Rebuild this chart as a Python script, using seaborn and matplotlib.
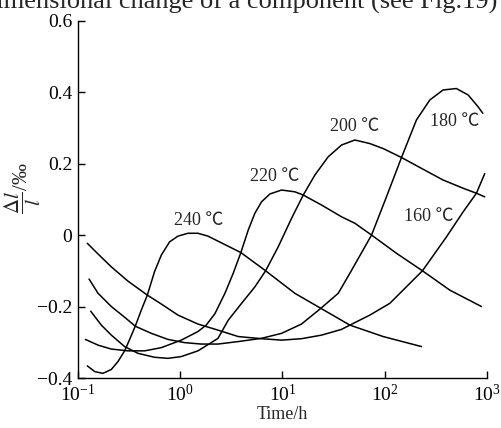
import numpy as np
import pandas as pd
import matplotlib
matplotlib.use("Agg")
import matplotlib.pyplot as plt
import seaborn as sns
from matplotlib.ticker import FixedLocator, FixedFormatter, NullLocator, LogFormatterMathtext

# ---- data (log10 of time in h, dimensional change in per mille) ----
log_t_240 = [-0.909, -0.837, -0.756, -0.674, -0.609, -0.544, -0.492, -0.440, -0.381, -0.322,
             -0.251, -0.185, -0.104, -0.022, 0.075, 0.173, 0.271, 0.369,
             0.593, 0.835, 1.121, 1.375, 1.659, 1.985, 2.359]
dl_240    = [-0.366, -0.382, -0.387, -0.376, -0.354, -0.324, -0.290, -0.255, -0.210, -0.168,
             -0.102, -0.056, -0.019, -0.003, 0.005, 0.005, -0.003, -0.017,
             -0.049, -0.100, -0.163, -0.205, -0.252, -0.284, -0.312]

log_t_220 = [-0.928, -0.804, -0.674, -0.511, -0.348, -0.185, 0.010, 0.173, 0.254, 0.339,
             0.437, 0.518, 0.593, 0.665, 0.730, 0.795, 0.877, 0.991, 1.121, 1.203,
             1.382, 1.578, 1.708, 1.871, 2.115, 2.369, 2.636, 2.946]
dl_220    = [-0.292, -0.308, -0.319, -0.324, -0.324, -0.315, -0.294, -0.270, -0.252, -0.220,
             -0.163, -0.107, -0.049, 0.014, 0.061, 0.093, 0.115, 0.126, 0.121, 0.112,
             0.084, 0.051, 0.033, 0.000, -0.051, -0.100, -0.154, -0.200]

log_t_200 = [-0.876, -0.772, -0.674, -0.544, -0.413, -0.251, -0.120, 0.010, 0.173, 0.303,
             0.369, 0.470, 0.600, 0.730, 0.835, 0.958, 1.089, 1.203, 1.317, 1.447,
             1.578, 1.708, 1.854, 1.985, 2.164, 2.376, 2.571, 2.767, 2.897, 2.978]
dl_200    = [-0.213, -0.252, -0.280, -0.312, -0.331, -0.342, -0.345, -0.340, -0.324, -0.301,
             -0.289, -0.238, -0.191, -0.145, -0.100, -0.033, 0.047, 0.112, 0.168, 0.219,
             0.252, 0.266, 0.256, 0.242, 0.217, 0.184, 0.154, 0.131, 0.117, 0.107]

log_t_180 = [-0.892, -0.804, -0.674, -0.544, -0.440, -0.283, -0.120, 0.043, 0.206, 0.369,
             0.567, 0.795, 0.991, 1.186, 1.375, 1.545, 1.659, 1.871, 2.017, 2.164,
             2.310, 2.441, 2.571, 2.701, 2.816, 2.913, 2.959]
dl_180    = [-0.123, -0.163, -0.200, -0.230, -0.255, -0.275, -0.292, -0.301, -0.305, -0.305,
             -0.298, -0.289, -0.275, -0.249, -0.205, -0.163, -0.107, 0.000, 0.107, 0.217,
             0.322, 0.378, 0.406, 0.410, 0.392, 0.359, 0.341]

log_t_160 = [-0.909, -0.804, -0.674, -0.511, -0.322, -0.185, -0.022, 0.173, 0.369, 0.567,
             0.795, 0.991, 1.186, 1.382, 1.577, 1.659, 1.854, 2.050, 2.369, 2.604,
             2.767, 2.897, 2.978]
dl_160    = [-0.023, -0.053, -0.089, -0.129, -0.168, -0.193, -0.224, -0.249, -0.266, -0.284,
             -0.290, -0.294, -0.290, -0.280, -0.264, -0.252, -0.224, -0.191, -0.100, -0.005,
             0.065, 0.117, 0.172]

series_names = ["240 ℃", "220 ℃", "200 ℃", "180 ℃", "160 ℃"]
label_log_t = [0.183, 0.926, 1.708, 2.685, 2.431]
label_dl    = [0.042, 0.164, 0.304, 0.317, 0.052]

y_ticks = [-0.4, -0.2, 0.0, 0.2, 0.4, 0.6]
y_tick_labels = ["−0.4", "−0.2", "0", "0.2", "0.4", "0.6"]
x_ticks = [0.1, 1, 10, 100, 1000]

# ---- build table ----
frames = []
for name, lt, dl in zip(series_names,
                        [log_t_240, log_t_220, log_t_200, log_t_180, log_t_160],
                        [dl_240, dl_220, dl_200, dl_180, dl_160]):
    frames.append(pd.DataFrame({"time": 10 ** np.array(lt), "dl": dl, "series": name}))
df = pd.concat(frames, ignore_index=True)

sns.set_theme(style="ticks")
plt.rcParams["font.family"] = ["Liberation Serif", "Noto Sans CJK SC", "DejaVu Sans"]
plt.rcParams["mathtext.fontset"] = "stix"

fig = plt.figure(figsize=(5.01, 4.28), dpi=100)
ax = fig.add_axes([0.1557, 0.1168, 0.8163, 0.835])

for name in series_names:
    sub = df[df["series"] == name]
    sns.lineplot(data=sub, x="time", y="dl", ax=ax, color="black", lw=1.1,
                 sort=False, estimator=None, legend=False)

ax.set_xscale("log")
ax.set_xlim(0.1, 1000)
ax.set_ylim(-0.4, 0.6)
ax.xaxis.set_major_locator(FixedLocator(x_ticks))
ax.xaxis.set_minor_locator(NullLocator())
ax.xaxis.set_major_formatter(LogFormatterMathtext())
ax.yaxis.set_major_locator(FixedLocator(y_ticks))
ax.yaxis.set_major_formatter(FixedFormatter(y_tick_labels))

for s in ["top", "right"]:
    ax.spines[s].set_visible(False)
for s in ["left", "bottom"]:
    ax.spines[s].set_linewidth(1.0)
    ax.spines[s].set_color("black")
ax.tick_params(direction="in", length=5, width=1.0, colors="black",
               labelsize=14, pad=4)

ax.set_xlabel("Time/h", fontsize=13, labelpad=1)
ax.set_ylabel(r"$\dfrac{\Delta l}{l}$/‰", fontsize=15)
ax.yaxis.set_label_coords(-0.085, 0.53)

for name, lt, dl in zip(series_names, label_log_t, label_dl):
    ax.text(10 ** lt, dl, name, ha="center", va="center", fontsize=13,
            family=["Liberation Serif", "Noto Sans CJK SC"])

fig.text(0.993, 0.979, "dimensional change of a component (see Fig.19)",
         ha="right", va="baseline", fontsize=19)

fig.savefig("out.png", dpi=100)
